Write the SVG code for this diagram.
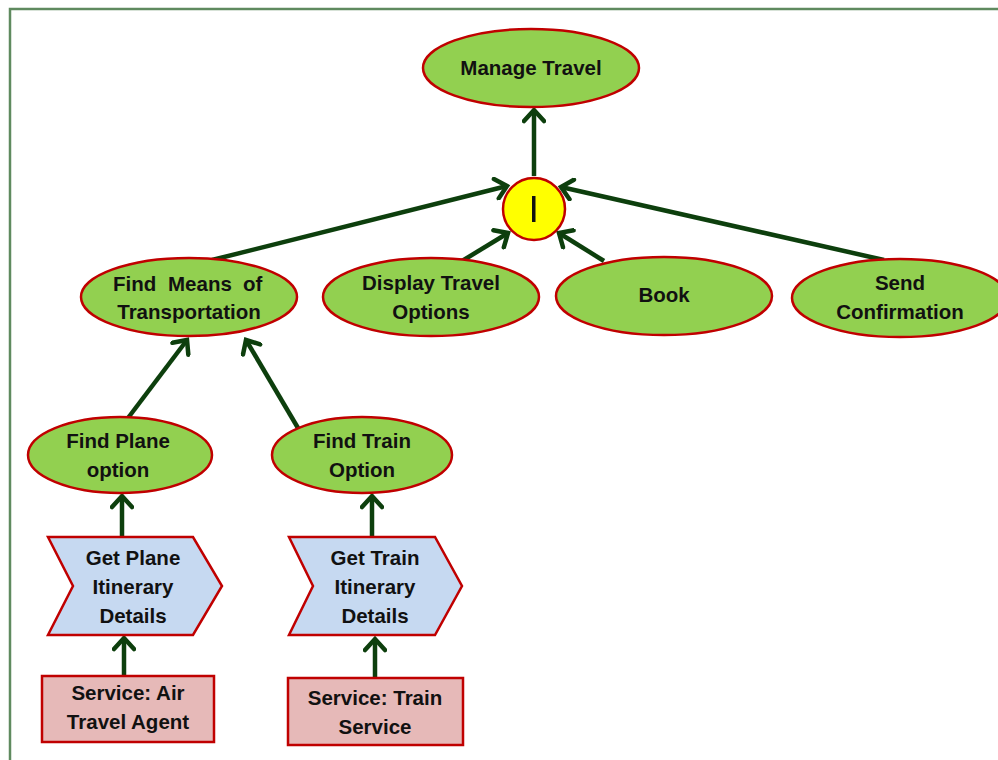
<svg xmlns="http://www.w3.org/2000/svg" width="998" height="760" viewBox="0 0 998 760">
  <defs>
    <marker id="arrow" viewBox="0 0 24 24" refX="14" refY="12" markerWidth="24" markerHeight="24" markerUnits="userSpaceOnUse" orient="auto">
      <path d="M3,2 L14,12 L3,22" fill="none" stroke="#0d3f0d" stroke-width="4.5" stroke-linecap="round" stroke-linejoin="miter"/>
    </marker>
    <style>
      .goal { fill: #92d050; stroke: #c00000; stroke-width: 2.5; }
      .op { fill: #ffff00; stroke: #c00000; stroke-width: 2.5; }
      .task { fill: #c6d9f1; stroke: #c00000; stroke-width: 2.5; }
      .svc { fill: #e6b9b8; stroke: #c00000; stroke-width: 2.5; }
      .lbl { font-family: "Liberation Sans", Arial, sans-serif; font-weight: bold; font-size: 20.5px; fill: #111; text-anchor: middle; }
      .edge { stroke: #0d3f0d; stroke-width: 4.5; fill: none; marker-end: url(#arrow); }
    </style>
  </defs>

  <rect x="0" y="0" width="998" height="760" fill="#ffffff"/>
  <!-- outer frame -->
  <rect x="10" y="9" width="1000" height="770" fill="none" stroke="#5f8a5f" stroke-width="2.5"/>

  <g id="connectors">
    <line class="edge" x1="534" y1="176" x2="534" y2="110"/>
    <line class="edge" x1="212" y1="260" x2="507" y2="186"/>
    <line class="edge" x1="462" y1="261" x2="508" y2="233"/>
    <line class="edge" x1="604" y1="261" x2="559" y2="233"/>
    <line class="edge" x1="884" y1="260" x2="561" y2="187"/>
    <line class="edge" x1="128" y1="418" x2="187" y2="340"/>
    <line class="edge" x1="298" y1="428" x2="246" y2="340"/>
    <line class="edge" x1="122" y1="537" x2="122" y2="496"/>
    <line class="edge" x1="124" y1="676" x2="124" y2="638"/>
    <line class="edge" x1="372" y1="537" x2="372" y2="496"/>
    <line class="edge" x1="375" y1="678" x2="375" y2="639"/>
  </g>

  <g id="manage-travel">
    <ellipse class="goal" cx="531" cy="68" rx="108" ry="39"/>
    <text class="lbl" x="531" y="75">Manage Travel</text>
  </g>

  <g id="and-decomposition">
    <circle class="op" cx="534" cy="209" r="31"/>
    <rect x="532" y="196" width="3.5" height="26" fill="#111"/>
  </g>

  <g id="find-means">
    <ellipse class="goal" cx="189" cy="297" rx="108" ry="39"/>
    <text class="lbl" y="291" style="text-anchor:start"><tspan x="113">Find</tspan><tspan x="168">Means</tspan><tspan x="243">of</tspan></text>
    <text class="lbl" x="189" y="319">Transportation</text>
  </g>

  <g id="display-options">
    <ellipse class="goal" cx="431" cy="297" rx="108" ry="39"/>
    <text class="lbl" x="431" y="290">Display Travel</text>
    <text class="lbl" x="431" y="319">Options</text>
  </g>

  <g id="book">
    <ellipse class="goal" cx="664" cy="296" rx="108" ry="39"/>
    <text class="lbl" x="664" y="302">Book</text>
  </g>

  <g id="send-confirmation">
    <ellipse class="goal" cx="900" cy="298" rx="108" ry="39"/>
    <text class="lbl" x="900" y="290">Send</text>
    <text class="lbl" x="900" y="319">Confirmation</text>
  </g>

  <g id="find-plane">
    <ellipse class="goal" cx="120" cy="455" rx="92" ry="38"/>
    <text class="lbl" x="118" y="448">Find Plane</text>
    <text class="lbl" x="118" y="477">option</text>
  </g>

  <g id="find-train">
    <ellipse class="goal" cx="362" cy="455" rx="90" ry="38"/>
    <text class="lbl" x="362" y="448">Find Train</text>
    <text class="lbl" x="362" y="477">Option</text>
  </g>

  <g id="get-plane-itinerary">
    <polygon class="task" points="48,537 193,537 222,586 193,635 48,635 73,586"/>
    <text class="lbl" x="133" y="565">Get Plane</text>
    <text class="lbl" x="133" y="594">Itinerary</text>
    <text class="lbl" x="133" y="623">Details</text>
  </g>

  <g id="get-train-itinerary">
    <polygon class="task" points="289,537 435,537 462,586 435,635 289,635 313,586"/>
    <text class="lbl" x="375" y="565">Get Train</text>
    <text class="lbl" x="375" y="594">Itinerary</text>
    <text class="lbl" x="375" y="623">Details</text>
  </g>

  <g id="air-travel-service">
    <rect class="svc" x="42" y="676" width="172" height="66"/>
    <text class="lbl" x="128" y="700">Service: Air</text>
    <text class="lbl" x="128" y="729">Travel Agent</text>
  </g>

  <g id="train-service">
    <rect class="svc" x="288" y="678" width="175" height="67"/>
    <text class="lbl" x="375" y="705">Service: Train</text>
    <text class="lbl" x="375" y="734">Service</text>
  </g>
</svg>
